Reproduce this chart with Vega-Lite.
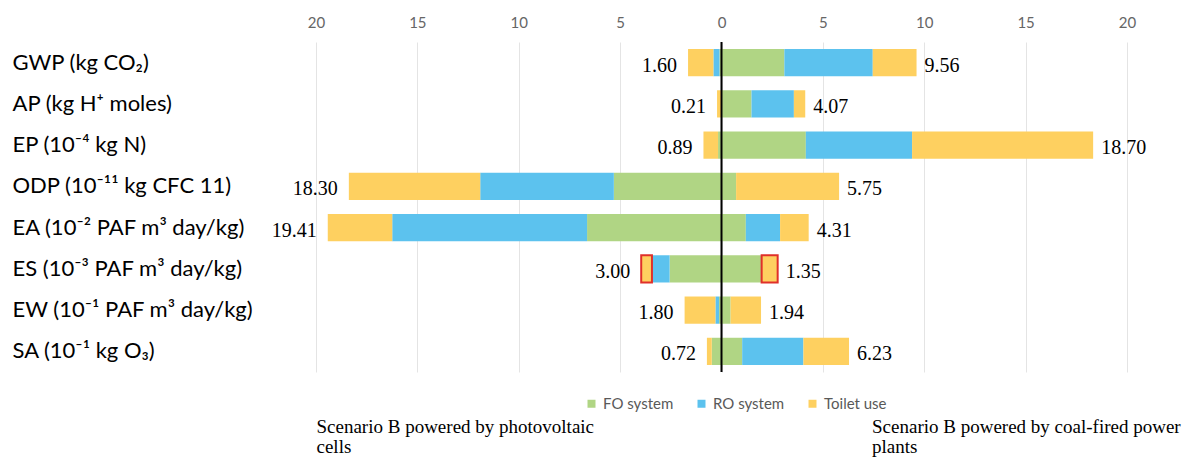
{
  "$schema": "https://vega.github.io/schema/vega-lite/v6.json",
  "width": 811,
  "height": 330,
  "autosize": {"type": "none"},
  "padding": {"left": 316, "top": 42, "right": 66, "bottom": 92},
  "background": "white",
  "config": {"view": {"stroke": null}},
  "data": {"values": [
    {"impact": "GWP (kg CO₂)", "side": "PV", "component": "FO system", "value": -0.1, "total": "1.60"},
    {"impact": "GWP (kg CO₂)", "side": "PV", "component": "RO system", "value": -0.3, "total": "1.60"},
    {"impact": "GWP (kg CO₂)", "side": "PV", "component": "Toilet use", "value": -1.25, "total": "1.60"},
    {"impact": "GWP (kg CO₂)", "side": "Coal", "component": "FO system", "value": 3.10, "total": "9.56"},
    {"impact": "GWP (kg CO₂)", "side": "Coal", "component": "RO system", "value": 4.36, "total": "9.56"},
    {"impact": "GWP (kg CO₂)", "side": "Coal", "component": "Toilet use", "value": 2.16, "total": "9.56"},
    {"impact": "AP (kg H⁺ moles)", "side": "PV", "component": "Toilet use", "value": -0.22, "total": "0.21"},
    {"impact": "AP (kg H⁺ moles)", "side": "Coal", "component": "FO system", "value": 1.48, "total": "4.07"},
    {"impact": "AP (kg H⁺ moles)", "side": "Coal", "component": "RO system", "value": 2.09, "total": "4.07"},
    {"impact": "AP (kg H⁺ moles)", "side": "Coal", "component": "Toilet use", "value": 0.56, "total": "4.07"},
    {"impact": "EP (10⁻⁴ kg N)", "side": "PV", "component": "FO system", "value": -0.17, "total": "0.89"},
    {"impact": "EP (10⁻⁴ kg N)", "side": "PV", "component": "Toilet use", "value": -0.72, "total": "0.89"},
    {"impact": "EP (10⁻⁴ kg N)", "side": "Coal", "component": "FO system", "value": 4.16, "total": "18.70"},
    {"impact": "EP (10⁻⁴ kg N)", "side": "Coal", "component": "RO system", "value": 5.24, "total": "18.70"},
    {"impact": "EP (10⁻⁴ kg N)", "side": "Coal", "component": "Toilet use", "value": 8.93, "total": "18.70"},
    {"impact": "ODP (10⁻¹¹ kg CFC 11)", "side": "PV", "component": "FO system", "value": -5.31, "total": "18.30"},
    {"impact": "ODP (10⁻¹¹ kg CFC 11)", "side": "PV", "component": "RO system", "value": -6.59, "total": "18.30"},
    {"impact": "ODP (10⁻¹¹ kg CFC 11)", "side": "PV", "component": "Toilet use", "value": -6.48, "total": "18.30"},
    {"impact": "ODP (10⁻¹¹ kg CFC 11)", "side": "Coal", "component": "FO system", "value": 0.72, "total": "5.75"},
    {"impact": "ODP (10⁻¹¹ kg CFC 11)", "side": "Coal", "component": "Toilet use", "value": 5.08, "total": "5.75"},
    {"impact": "EA (10⁻² PAF m³ day/kg)", "side": "PV", "component": "FO system", "value": -6.63, "total": "19.41"},
    {"impact": "EA (10⁻² PAF m³ day/kg)", "side": "PV", "component": "RO system", "value": -9.61, "total": "19.41"},
    {"impact": "EA (10⁻² PAF m³ day/kg)", "side": "PV", "component": "Toilet use", "value": -3.18, "total": "19.41"},
    {"impact": "EA (10⁻² PAF m³ day/kg)", "side": "Coal", "component": "FO system", "value": 1.20, "total": "4.31"},
    {"impact": "EA (10⁻² PAF m³ day/kg)", "side": "Coal", "component": "RO system", "value": 1.69, "total": "4.31"},
    {"impact": "EA (10⁻² PAF m³ day/kg)", "side": "Coal", "component": "Toilet use", "value": 1.41, "total": "4.31"},
    {"impact": "ES (10⁻³ PAF m³ day/kg)", "side": "PV", "component": "FO system", "value": -2.56, "total": "3.00"},
    {"impact": "ES (10⁻³ PAF m³ day/kg)", "side": "PV", "component": "RO system", "value": -0.87, "total": "3.00"},
    {"impact": "ES (10⁻³ PAF m³ day/kg)", "side": "PV", "component": "Toilet use", "value": -0.53, "total": "3.00"},
    {"impact": "ES (10⁻³ PAF m³ day/kg)", "side": "Coal", "component": "FO system", "value": 1.98, "total": "1.35"},
    {"impact": "ES (10⁻³ PAF m³ day/kg)", "side": "Coal", "component": "Toilet use", "value": 0.79, "total": "1.35"},
    {"impact": "EW (10⁻¹ PAF m³ day/kg)", "side": "PV", "component": "FO system", "value": -0.12, "total": "1.80"},
    {"impact": "EW (10⁻¹ PAF m³ day/kg)", "side": "PV", "component": "RO system", "value": -0.18, "total": "1.80"},
    {"impact": "EW (10⁻¹ PAF m³ day/kg)", "side": "PV", "component": "Toilet use", "value": -1.52, "total": "1.80"},
    {"impact": "EW (10⁻¹ PAF m³ day/kg)", "side": "Coal", "component": "FO system", "value": 0.45, "total": "1.94"},
    {"impact": "EW (10⁻¹ PAF m³ day/kg)", "side": "Coal", "component": "Toilet use", "value": 1.50, "total": "1.94"},
    {"impact": "SA (10⁻¹ kg O₃)", "side": "PV", "component": "FO system", "value": -0.48, "total": "0.72"},
    {"impact": "SA (10⁻¹ kg O₃)", "side": "PV", "component": "Toilet use", "value": -0.24, "total": "0.72"},
    {"impact": "SA (10⁻¹ kg O₃)", "side": "Coal", "component": "FO system", "value": 1.02, "total": "6.23"},
    {"impact": "SA (10⁻¹ kg O₃)", "side": "Coal", "component": "RO system", "value": 3.02, "total": "6.23"},
    {"impact": "SA (10⁻¹ kg O₃)", "side": "Coal", "component": "Toilet use", "value": 2.25, "total": "6.23"}
  ]},
  "resolve": {"axis": {"x": "independent"}},
  "layer": [
    {
      "mark": {"type": "bar", "stroke": "#E0302A"},
      "encoding": {
        "y": {
          "field": "impact", "type": "nominal", "sort": null,
          "scale": {"paddingInner": 0.34, "paddingOuter": 0.17},
          "axis": {"title": null, "domain": false, "ticks": false, "tickSize": 0, "labelAlign": "left", "labelPadding": 304, "labelFont": "Lato", "labelFontSize": 22, "labelColor": "#000000", "labelLimit": 400}
        },
        "x": {
          "field": "value", "type": "quantitative", "stack": "zero",
          "scale": {"domain": [-20, 20], "nice": false},
          "axis": {"orient": "top", "title": null, "values": [-20, -15, -10, -5, 0, 5, 10, 15, 20], "labelExpr": "abs(datum.value)", "grid": true, "gridColor": "#e4e4e4", "domain": false, "ticks": false, "labelPadding": 12, "labelFont": "Lato", "labelFontSize": 15, "labelColor": "#666666", "labelFlush": false}
        },
        "color": {
          "field": "component", "type": "nominal",
          "scale": {"domain": ["FO system", "RO system", "Toilet use"], "range": ["#B0D584", "#5CC2EE", "#FED060"]},
          "legend": {"title": null, "orient": "none", "legendX": 268, "legendY": 354, "direction": "horizontal", "symbolType": "square", "symbolSize": 64, "symbolStrokeWidth": 0, "labelFont": "Lato", "labelFontSize": 15, "labelColor": "#595959", "labelOffset": 4, "columnPadding": 20, "padding": 0}
        },
        "order": {"field": "component", "sort": "ascending"},
        "strokeWidth": {"condition": {"test": "datum.component === 'Toilet use' && indexof(datum.impact, 'ES') === 0", "value": 2}, "value": 0}
      }
    },
    {
      "transform": [
        {"filter": "datum.side === 'PV'"},
        {"aggregate": [{"op": "sum", "field": "value", "as": "end"}], "groupby": ["impact", "total"]}
      ],
      "mark": {"type": "text", "align": "right", "baseline": "middle", "dx": -11, "dy": 3, "font": "Liberation Serif", "fontSize": 20, "color": "#000000"},
      "encoding": {
        "y": {"field": "impact", "type": "nominal", "sort": null},
        "x": {"field": "end", "type": "quantitative", "axis": null},
        "text": {"field": "total"}
      }
    },
    {
      "transform": [
        {"filter": "datum.side === 'Coal'"},
        {"aggregate": [{"op": "sum", "field": "value", "as": "end"}], "groupby": ["impact", "total"]}
      ],
      "mark": {"type": "text", "align": "left", "baseline": "middle", "dx": 8, "dy": 3, "font": "Liberation Serif", "fontSize": 20, "color": "#000000"},
      "encoding": {
        "y": {"field": "impact", "type": "nominal", "sort": null},
        "x": {"field": "end", "type": "quantitative", "axis": null},
        "text": {"field": "total"}
      }
    },
    {
      "data": {"values": [{"origin": 0}]},
      "mark": {"type": "rule", "color": "#000000", "strokeWidth": 2},
      "encoding": {
        "x": {
          "field": "origin", "type": "quantitative",
          "axis": {"orient": "bottom", "title": null, "values": [-20, 7.4], "labelExpr": "datum.value < 0 ? ['Scenario B powered by photovoltaic', 'cells'] : ['Scenario B powered by coal-fired power', 'plants']", "labelAlign": "left", "labelBaseline": "top", "labelFont": "Liberation Serif", "labelFontSize": 19, "labelColor": "#000000", "labelLineHeight": 20, "labelPadding": 45, "ticks": false, "domain": false, "grid": false, "labelFlush": false, "labelOverlap": false, "labelBound": false, "labelLimit": 500}
        }
      }
    }
  ]
}
